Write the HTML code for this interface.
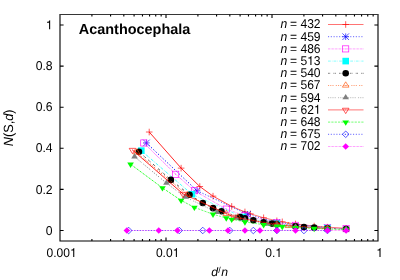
<!DOCTYPE html>
<html><head><meta charset="utf-8"><title>chart</title>
<style>html,body{margin:0;padding:0;background:#fff}svg{display:block;will-change:transform;opacity:0.999}text{font-family:"Liberation Sans",sans-serif;fill:#000;text-rendering:geometricPrecision}</style></head><body>
<svg width="400" height="280" viewBox="0 0 400 280">
<rect width="400" height="280" fill="#fff"/>
<path d="M60.0 13.945V241.555M378.0 13.945V241.555M60.0 241.0H378.0" fill="none" stroke="#000" stroke-width="1.11"/>
<path d="M60.0 14.5H378.0" fill="none" stroke="#363636" stroke-width="1.11"/>
<path d="M60.0 230.50h3.6M378.0 230.50h-3.6 M60.0 189.40h3.6M378.0 189.40h-3.6 M60.0 148.30h3.6M378.0 148.30h-3.6 M60.0 107.20h3.6M378.0 107.20h-3.6 M60.0 66.10h3.6M378.0 66.10h-3.6 M60.0 25.00h3.6M378.0 25.00h-3.6 M91.91 241.0v-1.9M91.91 14.5v1.9 M110.57 241.0v-1.9M110.57 14.5v1.9 M123.82 241.0v-1.9M123.82 14.5v1.9 M134.09 241.0v-1.9M134.09 14.5v1.9 M142.48 241.0v-1.9M142.48 14.5v1.9 M149.58 241.0v-1.9M149.58 14.5v1.9 M155.73 241.0v-1.9M155.73 14.5v1.9 M161.15 241.0v-1.9M161.15 14.5v1.9 M166.00 241.0v-3.6M166.00 14.5v3.6 M197.91 241.0v-1.9M197.91 14.5v1.9 M216.57 241.0v-1.9M216.57 14.5v1.9 M229.82 241.0v-1.9M229.82 14.5v1.9 M240.09 241.0v-1.9M240.09 14.5v1.9 M248.48 241.0v-1.9M248.48 14.5v1.9 M255.58 241.0v-1.9M255.58 14.5v1.9 M261.73 241.0v-1.9M261.73 14.5v1.9 M267.15 241.0v-1.9M267.15 14.5v1.9 M272.00 241.0v-3.6M272.00 14.5v3.6 M303.91 241.0v-1.9M303.91 14.5v1.9 M322.57 241.0v-1.9M322.57 14.5v1.9 M335.82 241.0v-1.9M335.82 14.5v1.9 M346.09 241.0v-1.9M346.09 14.5v1.9 M354.48 241.0v-1.9M354.48 14.5v1.9 M361.58 241.0v-1.9M361.58 14.5v1.9 M367.73 241.0v-1.9M367.73 14.5v1.9 M373.15 241.0v-1.9M373.15 14.5v1.9" stroke="#000" stroke-width="1.11" fill="none"/>
<g transform="translate(45.82,234.65) scale(1,1.05)"><text font-size="12.2"><tspan x="0.00">0</tspan></text></g>
<g transform="translate(35.64,193.55) scale(1,1.05)"><text font-size="12.2"><tspan x="0.00">0</tspan><tspan x="6.78">.</tspan><tspan x="10.17">2</tspan></text></g>
<g transform="translate(35.64,152.45) scale(1,1.05)"><text font-size="12.2"><tspan x="0.00">0</tspan><tspan x="6.78">.</tspan><tspan x="10.17">4</tspan></text></g>
<g transform="translate(35.64,111.35) scale(1,1.05)"><text font-size="12.2"><tspan x="0.00">0</tspan><tspan x="6.78">.</tspan><tspan x="10.17">6</tspan></text></g>
<g transform="translate(35.64,70.25) scale(1,1.05)"><text font-size="12.2"><tspan x="0.00">0</tspan><tspan x="6.78">.</tspan><tspan x="10.17">8</tspan></text></g>
<g transform="translate(45.82,29.15) scale(1,1.05)"><path transform="translate(0.00,0) scale(12.2)" d="M0.356 -0.703H0.297C0.285 -0.63 0.22 -0.575 0.101 -0.572V-0.508H0.268V0H0.356Z" fill="#000"/></g>
<g transform="translate(46.53,257.00) scale(1,1.05)"><text font-size="12.05"><tspan x="0.00">0</tspan><tspan x="6.70">.</tspan><tspan x="10.05">0</tspan><tspan x="16.75">0</tspan></text><path transform="translate(23.45,0) scale(12.05)" d="M0.356 -0.703H0.297C0.285 -0.63 0.22 -0.575 0.101 -0.572V-0.508H0.268V0H0.356Z" fill="#000"/></g>
<g transform="translate(155.88,257.00) scale(1,1.05)"><text font-size="12.05"><tspan x="0.00">0</tspan><tspan x="6.70">.</tspan><tspan x="10.05">0</tspan></text><path transform="translate(16.75,0) scale(12.05)" d="M0.356 -0.703H0.297C0.285 -0.63 0.22 -0.575 0.101 -0.572V-0.508H0.268V0H0.356Z" fill="#000"/></g>
<g transform="translate(265.23,257.00) scale(1,1.05)"><text font-size="12.05"><tspan x="0.00">0</tspan><tspan x="6.70">.</tspan></text><path transform="translate(10.05,0) scale(12.05)" d="M0.356 -0.703H0.297C0.285 -0.63 0.22 -0.575 0.101 -0.572V-0.508H0.268V0H0.356Z" fill="#000"/></g>
<g transform="translate(376.25,257.00) scale(1,1.05)"><path transform="translate(0.00,0) scale(12.05)" d="M0.356 -0.703H0.297C0.285 -0.63 0.22 -0.575 0.101 -0.572V-0.508H0.268V0H0.356Z" fill="#000"/></g>
<text x="211.2" y="275.5" font-size="12.2"><tspan font-style="italic">d</tspan><tspan font-size="8.8" dy="-2.9" dx="0.2">/</tspan><tspan font-style="italic" dy="2.9" dx="0.5">n</tspan></text>
<text transform="translate(13.3,127.8) rotate(-90) scale(1,1.05)" font-size="12.7" text-anchor="middle"><tspan font-style="italic">N</tspan>(S,<tspan font-style="italic">d</tspan>)</text>
<text x="78.8" y="34.2" font-size="14.45" font-weight="bold">Acanthocephala</text>
<path d="M149.21 132.03L181.12 168.13" fill="none" stroke="#ff0000" stroke-width="0.85"/>
<path d="M181.12 168.13L199.79 186.52" fill="none" stroke="#ff0000" stroke-width="0.85"/>
<path d="M199.79 186.52L213.03 196.15" fill="none" stroke="#ff0000" stroke-width="0.80"/>
<path d="M213.03 196.15L231.70 206.40" fill="none" stroke="#ff0000" stroke-width="0.70"/>
<path d="M231.70 206.40L244.94 211.93" fill="none" stroke="#ff0000" stroke-width="0.62"/>
<path d="M244.94 211.93L250.36 213.84" fill="none" stroke="#ff0000" stroke-width="0.57"/>
<path d="M250.36 213.84L263.61 217.77" fill="none" stroke="#ff0000" stroke-width="0.55"/>
<path d="M263.61 217.77L276.85 220.82" fill="none" stroke="#ff0000" stroke-width="0.55"/>
<path d="M276.85 220.82L282.27 221.86" fill="none" stroke="#ff0000" stroke-width="0.55"/>
<path d="M282.27 221.86L295.52 223.95" fill="none" stroke="#ff0000" stroke-width="0.55"/>
<path d="M295.52 223.95L314.18 226.09" fill="none" stroke="#ff0000" stroke-width="0.55"/>
<path d="M314.18 226.09L327.43 227.18" fill="none" stroke="#ff0000" stroke-width="0.55"/>
<path d="M327.43 227.18L346.09 228.28" fill="none" stroke="#ff0000" stroke-width="0.55"/>
<path d="M145.91 132.03H152.51M149.21 128.73V135.33" stroke="#ff0000" stroke-width="0.65" fill="none"/>
<path d="M177.82 168.13H184.42M181.12 164.83V171.43" stroke="#ff0000" stroke-width="0.65" fill="none"/>
<path d="M196.49 186.52H203.09M199.79 183.22V189.82" stroke="#ff0000" stroke-width="0.65" fill="none"/>
<path d="M209.73 196.15H216.33M213.03 192.85V199.45" stroke="#ff0000" stroke-width="0.65" fill="none"/>
<path d="M228.40 206.40H235.00M231.70 203.10V209.70" stroke="#ff0000" stroke-width="0.65" fill="none"/>
<path d="M241.64 211.93H248.24M244.94 208.63V215.23" stroke="#ff0000" stroke-width="0.65" fill="none"/>
<path d="M247.06 213.84H253.66M250.36 210.54V217.14" stroke="#ff0000" stroke-width="0.65" fill="none"/>
<path d="M260.31 217.77H266.91M263.61 214.47V221.07" stroke="#ff0000" stroke-width="0.65" fill="none"/>
<path d="M273.55 220.82H280.15M276.85 217.52V224.12" stroke="#ff0000" stroke-width="0.65" fill="none"/>
<path d="M278.97 221.86H285.57M282.27 218.56V225.16" stroke="#ff0000" stroke-width="0.65" fill="none"/>
<path d="M292.22 223.95H298.82M295.52 220.65V227.25" stroke="#ff0000" stroke-width="0.65" fill="none"/>
<path d="M310.88 226.09H317.48M314.18 222.79V229.39" stroke="#ff0000" stroke-width="0.65" fill="none"/>
<path d="M324.13 227.18H330.73M327.43 223.88V230.48" stroke="#ff0000" stroke-width="0.65" fill="none"/>
<path d="M342.79 228.28H349.39M346.09 224.98V231.58" stroke="#ff0000" stroke-width="0.65" fill="none"/>
<path d="M146.42 142.92L197.00 190.73" fill="none" stroke="#0000ff" stroke-width="0.95" stroke-dasharray="1.271,1.912" stroke-dashoffset="0.00"/>
<path d="M197.00 190.73L247.57 214.37" fill="none" stroke="#0000ff" stroke-width="0.72" stroke-dasharray="1.162,1.748" stroke-dashoffset="2.68"/>
<path d="M247.57 214.37L276.85 222.38" fill="none" stroke="#0000ff" stroke-width="0.62" stroke-dasharray="1.110,1.670" stroke-dashoffset="0.32"/>
<path d="M276.85 222.38L327.43 227.72" fill="none" stroke="#0000ff" stroke-width="0.62" stroke-dasharray="1.110,1.670" stroke-dashoffset="0.10"/>
<path d="M143.12 142.92H149.72M146.42 139.62V146.22M143.12 139.62L149.72 146.22M143.12 146.22L149.72 139.62" stroke="#0000ff" stroke-width="0.65" fill="none"/>
<path d="M193.70 190.73H200.30M197.00 187.43V194.03M193.70 187.43L200.30 194.03M193.70 194.03L200.30 187.43" stroke="#0000ff" stroke-width="0.65" fill="none"/>
<path d="M244.27 214.37H250.87M247.57 211.07V217.67M244.27 211.07L250.87 217.67M244.27 217.67L250.87 211.07" stroke="#0000ff" stroke-width="0.65" fill="none"/>
<path d="M273.55 222.38H280.15M276.85 219.08V225.68M273.55 219.08L280.15 225.68M273.55 225.68L280.15 219.08" stroke="#0000ff" stroke-width="0.65" fill="none"/>
<path d="M324.13 227.72H330.73M327.43 224.42V231.02M324.13 224.42L330.73 231.02M324.13 231.02L330.73 224.42" stroke="#0000ff" stroke-width="0.65" fill="none"/>
<path d="M143.79 142.97L175.70 174.26" fill="none" stroke="#ff00ff" stroke-width="1.00" stroke-dasharray="0.637,0.954" stroke-dashoffset="0.00"/>
<path d="M175.70 174.26L194.37 190.75" fill="none" stroke="#ff00ff" stroke-width="1.00" stroke-dasharray="0.637,0.954" stroke-dashoffset="0.16"/>
<path d="M194.37 190.75L226.28 209.07" fill="none" stroke="#ff00ff" stroke-width="0.84" stroke-dasharray="0.599,0.898" stroke-dashoffset="0.71"/>
<path d="M226.28 209.07L244.94 215.69" fill="none" stroke="#ff00ff" stroke-width="0.67" stroke-dasharray="0.562,0.841" stroke-dashoffset="1.17"/>
<path d="M244.94 215.69L276.85 222.82" fill="none" stroke="#ff00ff" stroke-width="0.65" stroke-dasharray="0.556,0.833" stroke-dashoffset="1.19"/>
<path d="M276.85 222.82L295.52 225.31" fill="none" stroke="#ff00ff" stroke-width="0.65" stroke-dasharray="0.556,0.833" stroke-dashoffset="0.55"/>
<path d="M295.52 225.31L327.43 227.87" fill="none" stroke="#ff00ff" stroke-width="0.65" stroke-dasharray="0.556,0.833" stroke-dashoffset="1.32"/>
<path d="M327.43 227.87L346.09 228.74" fill="none" stroke="#ff00ff" stroke-width="0.65" stroke-dasharray="0.556,0.833" stroke-dashoffset="1.39"/>
<rect x="140.72" y="139.90" width="6.14" height="6.14" stroke="#ff00ff" stroke-width="0.65" fill="none"/><circle cx="143.79" cy="142.97" r="0.45" fill="#ff00ff"/>
<rect x="172.63" y="171.19" width="6.14" height="6.14" stroke="#ff00ff" stroke-width="0.65" fill="none"/><circle cx="175.70" cy="174.26" r="0.45" fill="#ff00ff"/>
<rect x="191.30" y="187.68" width="6.14" height="6.14" stroke="#ff00ff" stroke-width="0.65" fill="none"/><circle cx="194.37" cy="190.75" r="0.45" fill="#ff00ff"/>
<rect x="223.21" y="206.01" width="6.14" height="6.14" stroke="#ff00ff" stroke-width="0.65" fill="none"/><circle cx="226.28" cy="209.07" r="0.45" fill="#ff00ff"/>
<rect x="241.87" y="212.63" width="6.14" height="6.14" stroke="#ff00ff" stroke-width="0.65" fill="none"/><circle cx="244.94" cy="215.69" r="0.45" fill="#ff00ff"/>
<rect x="273.78" y="219.75" width="6.14" height="6.14" stroke="#ff00ff" stroke-width="0.65" fill="none"/><circle cx="276.85" cy="222.82" r="0.45" fill="#ff00ff"/>
<rect x="292.45" y="222.24" width="6.14" height="6.14" stroke="#ff00ff" stroke-width="0.65" fill="none"/><circle cx="295.52" cy="225.31" r="0.45" fill="#ff00ff"/>
<rect x="324.36" y="224.80" width="6.14" height="6.14" stroke="#ff00ff" stroke-width="0.65" fill="none"/><circle cx="327.43" cy="227.87" r="0.45" fill="#ff00ff"/>
<rect x="343.02" y="225.67" width="6.14" height="6.14" stroke="#ff00ff" stroke-width="0.65" fill="none"/><circle cx="346.09" cy="228.74" r="0.45" fill="#ff00ff"/>
<path d="M141.30 150.65L191.88 194.24" fill="none" stroke="#00ffff" stroke-width="0.72" stroke-dasharray="3.183,1.271,0.641,1.271" stroke-dashoffset="0.00"/>
<path d="M191.88 194.24L242.45 216.99" fill="none" stroke="#00ffff" stroke-width="0.54" stroke-dasharray="2.894,1.156,0.583,1.156" stroke-dashoffset="3.10"/>
<path d="M242.45 216.99L276.85 223.85" fill="none" stroke="#00ffff" stroke-width="0.47" stroke-dasharray="2.780,1.110,0.560,1.110" stroke-dashoffset="5.47"/>
<path d="M276.85 223.85L327.43 228.23" fill="none" stroke="#00ffff" stroke-width="0.47" stroke-dasharray="2.780,1.110,0.560,1.110" stroke-dashoffset="1.62"/>
<rect x="138.00" y="147.35" width="6.60" height="6.60" fill="#00ffff"/>
<rect x="188.58" y="190.94" width="6.60" height="6.60" fill="#00ffff"/>
<rect x="239.15" y="213.69" width="6.60" height="6.60" fill="#00ffff"/>
<rect x="273.55" y="220.55" width="6.60" height="6.60" fill="#00ffff"/>
<rect x="324.13" y="224.93" width="6.60" height="6.60" fill="#00ffff"/>
<path d="M138.94 151.72L170.85 179.89" fill="none" stroke="#000000" stroke-width="1.00" stroke-dasharray="0.859,0.744,0.859,3.904" stroke-dashoffset="0.00"/>
<path d="M170.85 179.89L189.52 194.73" fill="none" stroke="#000000" stroke-width="0.98" stroke-dasharray="0.851,0.738,0.851,3.870" stroke-dashoffset="4.69"/>
<path d="M189.52 194.73L202.76 203.02" fill="none" stroke="#000000" stroke-width="0.87" stroke-dasharray="0.820,0.710,0.820,3.726" stroke-dashoffset="5.65"/>
<path d="M202.76 203.02L213.03 208.16" fill="none" stroke="#000000" stroke-width="0.79" stroke-dasharray="0.792,0.687,0.792,3.603" stroke-dashoffset="5.67"/>
<path d="M213.03 208.16L221.43 211.22" fill="none" stroke="#000000" stroke-width="0.68" stroke-dasharray="0.760,0.659,0.760,3.455" stroke-dashoffset="3.38"/>
<path d="M221.43 211.22L240.09 217.17" fill="none" stroke="#000000" stroke-width="0.65" stroke-dasharray="0.750,0.650,0.750,3.410" stroke-dashoffset="2.37"/>
<path d="M240.09 217.17L244.94 218.42" fill="none" stroke="#000000" stroke-width="0.65" stroke-dasharray="0.750,0.650,0.750,3.410" stroke-dashoffset="5.28"/>
<path d="M244.94 218.42L253.33 220.32" fill="none" stroke="#000000" stroke-width="0.65" stroke-dasharray="0.750,0.650,0.750,3.410" stroke-dashoffset="4.73"/>
<path d="M253.33 220.32L263.61 222.26" fill="none" stroke="#000000" stroke-width="0.65" stroke-dasharray="0.750,0.650,0.750,3.410" stroke-dashoffset="2.22"/>
<path d="M263.61 222.26L272.00 223.58" fill="none" stroke="#000000" stroke-width="0.65" stroke-dasharray="0.750,0.650,0.750,3.410" stroke-dashoffset="1.55"/>
<path d="M272.00 223.58L276.85 224.25" fill="none" stroke="#000000" stroke-width="0.65" stroke-dasharray="0.750,0.650,0.750,3.410" stroke-dashoffset="4.49"/>
<path d="M276.85 224.25L295.52 226.29" fill="none" stroke="#000000" stroke-width="0.65" stroke-dasharray="0.750,0.650,0.750,3.410" stroke-dashoffset="3.82"/>
<path d="M295.52 226.29L303.91 226.98" fill="none" stroke="#000000" stroke-width="0.65" stroke-dasharray="0.750,0.650,0.750,3.410" stroke-dashoffset="0.36"/>
<path d="M303.91 226.98L314.18 227.67" fill="none" stroke="#000000" stroke-width="0.65" stroke-dasharray="0.750,0.650,0.750,3.410" stroke-dashoffset="3.22"/>
<path d="M314.18 227.67L327.43 228.37" fill="none" stroke="#000000" stroke-width="0.65" stroke-dasharray="0.750,0.650,0.750,3.410" stroke-dashoffset="2.40"/>
<path d="M327.43 228.37L346.09 229.07" fill="none" stroke="#000000" stroke-width="0.65" stroke-dasharray="0.750,0.650,0.750,3.410" stroke-dashoffset="4.54"/>
<circle cx="138.94" cy="151.72" r="3.30" fill="#000000"/>
<circle cx="170.85" cy="179.89" r="3.30" fill="#000000"/>
<circle cx="189.52" cy="194.73" r="3.30" fill="#000000"/>
<circle cx="202.76" cy="203.02" r="3.30" fill="#000000"/>
<circle cx="213.03" cy="208.16" r="3.30" fill="#000000"/>
<circle cx="221.43" cy="211.22" r="3.30" fill="#000000"/>
<circle cx="240.09" cy="217.17" r="3.30" fill="#000000"/>
<circle cx="244.94" cy="218.42" r="3.30" fill="#000000"/>
<circle cx="253.33" cy="220.32" r="3.30" fill="#000000"/>
<circle cx="263.61" cy="222.26" r="3.30" fill="#000000"/>
<circle cx="272.00" cy="223.58" r="3.30" fill="#000000"/>
<circle cx="276.85" cy="224.25" r="3.30" fill="#000000"/>
<circle cx="295.52" cy="226.29" r="3.30" fill="#000000"/>
<circle cx="303.91" cy="226.98" r="3.30" fill="#000000"/>
<circle cx="314.18" cy="227.67" r="3.30" fill="#000000"/>
<circle cx="327.43" cy="228.37" r="3.30" fill="#000000"/>
<circle cx="346.09" cy="229.07" r="3.30" fill="#000000"/>
<path d="M136.70 152.48L187.27 195.07" fill="none" stroke="#ff4d00" stroke-width="0.85" stroke-dasharray="1.271,1.271,1.271,1.271,1.271,2.542" stroke-dashoffset="0.00"/>
<path d="M187.27 195.07L226.28 213.88" fill="none" stroke="#ff4d00" stroke-width="0.66" stroke-dasharray="1.167,1.167,1.167,1.167,1.167,2.333" stroke-dashoffset="0.79"/>
<path d="M226.28 213.88L237.84 217.30" fill="none" stroke="#ff4d00" stroke-width="0.55" stroke-dasharray="1.110,1.110,1.110,1.110,1.110,2.220" stroke-dashoffset="0.64"/>
<path d="M237.84 217.30L276.85 224.60" fill="none" stroke="#ff4d00" stroke-width="0.55" stroke-dasharray="1.110,1.110,1.110,1.110,1.110,2.220" stroke-dashoffset="4.94"/>
<path d="M276.85 224.60L288.42 225.88" fill="none" stroke="#ff4d00" stroke-width="0.55" stroke-dasharray="1.110,1.110,1.110,1.110,1.110,2.220" stroke-dashoffset="5.77"/>
<path d="M288.42 225.88L327.43 228.49" fill="none" stroke="#ff4d00" stroke-width="0.55" stroke-dasharray="1.110,1.110,1.110,1.110,1.110,2.220" stroke-dashoffset="1.87"/>
<path d="M136.70 148.78L133.40 154.13H140.00Z" stroke="#ff4d00" stroke-width="0.65" fill="none"/><circle cx="136.70" cy="152.48" r="0.45" fill="#ff4d00"/>
<path d="M187.27 191.37L183.97 196.72H190.57Z" stroke="#ff4d00" stroke-width="0.65" fill="none"/><circle cx="187.27" cy="195.07" r="0.45" fill="#ff4d00"/>
<path d="M226.28 210.18L222.98 215.53H229.58Z" stroke="#ff4d00" stroke-width="0.65" fill="none"/><circle cx="226.28" cy="213.88" r="0.45" fill="#ff4d00"/>
<path d="M237.84 213.61L234.54 218.95H241.14Z" stroke="#ff4d00" stroke-width="0.65" fill="none"/><circle cx="237.84" cy="217.30" r="0.45" fill="#ff4d00"/>
<path d="M276.85 220.90L273.55 226.25H280.15Z" stroke="#ff4d00" stroke-width="0.65" fill="none"/><circle cx="276.85" cy="224.60" r="0.45" fill="#ff4d00"/>
<path d="M288.42 222.18L285.12 227.53H291.72Z" stroke="#ff4d00" stroke-width="0.65" fill="none"/><circle cx="288.42" cy="225.88" r="0.45" fill="#ff4d00"/>
<path d="M327.43 224.79L324.13 230.14H330.73Z" stroke="#ff4d00" stroke-width="0.65" fill="none"/><circle cx="327.43" cy="228.49" r="0.45" fill="#ff4d00"/>
<path d="M134.55 156.74L166.46 183.11" fill="none" stroke="#808080" stroke-width="0.84" stroke-dasharray="1.268,1.268,1.268,1.268,1.268,1.268,1.268,2.536" stroke-dashoffset="0.00"/>
<path d="M166.46 183.11L185.13 197.00" fill="none" stroke="#808080" stroke-width="0.80" stroke-dasharray="1.247,1.247,1.247,1.247,1.247,1.247,1.247,2.493" stroke-dashoffset="7.74"/>
<path d="M185.13 197.00L217.04 212.44" fill="none" stroke="#808080" stroke-width="0.66" stroke-dasharray="1.167,1.167,1.167,1.167,1.167,1.167,1.167,2.334" stroke-dashoffset="1.64"/>
<path d="M217.04 212.44L235.70 218.02" fill="none" stroke="#808080" stroke-width="0.55" stroke-dasharray="1.110,1.110,1.110,1.110,1.110,1.110,1.110,2.220" stroke-dashoffset="0.21"/>
<path d="M235.70 218.02L244.94 220.15" fill="none" stroke="#808080" stroke-width="0.55" stroke-dasharray="1.110,1.110,1.110,1.110,1.110,1.110,1.110,2.220" stroke-dashoffset="9.71"/>
<path d="M244.94 220.15L267.61 224.02" fill="none" stroke="#808080" stroke-width="0.55" stroke-dasharray="1.110,1.110,1.110,1.110,1.110,1.110,1.110,2.220" stroke-dashoffset="9.20"/>
<path d="M267.61 224.02L276.85 225.17" fill="none" stroke="#808080" stroke-width="0.55" stroke-dasharray="1.110,1.110,1.110,1.110,1.110,1.110,1.110,2.220" stroke-dashoffset="2.23"/>
<path d="M276.85 225.17L295.52 226.91" fill="none" stroke="#808080" stroke-width="0.55" stroke-dasharray="1.110,1.110,1.110,1.110,1.110,1.110,1.110,2.220" stroke-dashoffset="1.54"/>
<path d="M295.52 226.91L327.43 228.68" fill="none" stroke="#808080" stroke-width="0.55" stroke-dasharray="1.110,1.110,1.110,1.110,1.110,1.110,1.110,2.220" stroke-dashoffset="0.31"/>
<path d="M327.43 228.68L346.09 229.28" fill="none" stroke="#808080" stroke-width="0.55" stroke-dasharray="1.110,1.110,1.110,1.110,1.110,1.110,1.110,2.220" stroke-dashoffset="2.30"/>
<path d="M134.55 153.04L131.25 158.39H137.85Z" fill="#808080"/>
<path d="M166.46 179.41L163.16 184.76H169.76Z" fill="#808080"/>
<path d="M185.13 193.31L181.83 198.65H188.43Z" fill="#808080"/>
<path d="M217.04 208.75L213.74 214.09H220.34Z" fill="#808080"/>
<path d="M235.70 214.33L232.40 219.67H239.00Z" fill="#808080"/>
<path d="M244.94 216.46L241.64 221.80H248.24Z" fill="#808080"/>
<path d="M267.61 220.33L264.31 225.67H270.91Z" fill="#808080"/>
<path d="M276.85 221.47L273.55 226.82H280.15Z" fill="#808080"/>
<path d="M295.52 223.21L292.22 228.56H298.82Z" fill="#808080"/>
<path d="M327.43 224.99L324.13 230.33H330.73Z" fill="#808080"/>
<path d="M346.09 225.59L342.79 230.93H349.39Z" fill="#808080"/>
<path d="M132.51 150.01L183.08 193.95" fill="none" stroke="#ff0000" stroke-width="0.85"/>
<path d="M183.08 193.95L233.66 216.88" fill="none" stroke="#ff0000" stroke-width="0.64"/>
<path d="M233.66 216.88L276.85 224.92" fill="none" stroke="#ff0000" stroke-width="0.55"/>
<path d="M276.85 224.92L327.43 228.60" fill="none" stroke="#ff0000" stroke-width="0.55"/>
<path d="M132.51 153.71L129.21 148.36H135.81Z" stroke="#ff0000" stroke-width="0.65" fill="none"/><circle cx="132.51" cy="150.01" r="0.45" fill="#ff0000"/>
<path d="M183.08 197.65L179.78 192.30H186.38Z" stroke="#ff0000" stroke-width="0.65" fill="none"/><circle cx="183.08" cy="193.95" r="0.45" fill="#ff0000"/>
<path d="M233.66 220.58L230.36 215.23H236.96Z" stroke="#ff0000" stroke-width="0.65" fill="none"/><circle cx="233.66" cy="216.88" r="0.45" fill="#ff0000"/>
<path d="M276.85 228.62L273.55 223.27H280.15Z" stroke="#ff0000" stroke-width="0.65" fill="none"/><circle cx="276.85" cy="224.92" r="0.45" fill="#ff0000"/>
<path d="M327.43 232.30L324.13 226.95H330.73Z" stroke="#ff0000" stroke-width="0.65" fill="none"/><circle cx="327.43" cy="228.60" r="0.45" fill="#ff0000"/>
<path d="M130.55 164.20L162.46 187.90" fill="none" stroke="#00ff00" stroke-width="0.80" stroke-dasharray="2.492,1.246" stroke-dashoffset="0.00"/>
<path d="M162.46 187.90L181.12 200.39" fill="none" stroke="#00ff00" stroke-width="0.77" stroke-dasharray="2.451,1.226" stroke-dashoffset="2.98"/>
<path d="M181.12 200.39L194.37 207.37" fill="none" stroke="#00ff00" stroke-width="0.69" stroke-dasharray="2.363,1.182" stroke-dashoffset="1.94"/>
<path d="M194.37 207.37L213.03 214.27" fill="none" stroke="#00ff00" stroke-width="0.58" stroke-dasharray="2.253,1.127" stroke-dashoffset="2.82"/>
<path d="M213.03 214.27L226.28 218.00" fill="none" stroke="#00ff00" stroke-width="0.55" stroke-dasharray="2.220,1.110" stroke-dashoffset="0.51"/>
<path d="M226.28 218.00L231.70 219.28" fill="none" stroke="#00ff00" stroke-width="0.55" stroke-dasharray="2.220,1.110" stroke-dashoffset="0.95"/>
<path d="M231.70 219.28L244.94 221.93" fill="none" stroke="#00ff00" stroke-width="0.55" stroke-dasharray="2.220,1.110" stroke-dashoffset="3.19"/>
<path d="M244.94 221.93L263.61 224.68" fill="none" stroke="#00ff00" stroke-width="0.55" stroke-dasharray="2.220,1.110" stroke-dashoffset="0.05"/>
<path d="M263.61 224.68L276.85 226.09" fill="none" stroke="#00ff00" stroke-width="0.55" stroke-dasharray="2.220,1.110" stroke-dashoffset="2.26"/>
<path d="M276.85 226.09L282.27 226.57" fill="none" stroke="#00ff00" stroke-width="0.55" stroke-dasharray="2.220,1.110" stroke-dashoffset="2.26"/>
<path d="M282.27 226.57L295.52 227.53" fill="none" stroke="#00ff00" stroke-width="0.55" stroke-dasharray="2.220,1.110" stroke-dashoffset="1.04"/>
<path d="M295.52 227.53L314.18 228.51" fill="none" stroke="#00ff00" stroke-width="0.55" stroke-dasharray="2.220,1.110" stroke-dashoffset="1.00"/>
<path d="M314.18 228.51L327.43 229.00" fill="none" stroke="#00ff00" stroke-width="0.55" stroke-dasharray="2.220,1.110" stroke-dashoffset="3.04"/>
<path d="M327.43 229.00L346.09 229.50" fill="none" stroke="#00ff00" stroke-width="0.55" stroke-dasharray="2.220,1.110" stroke-dashoffset="2.98"/>
<path d="M130.55 167.89L127.25 162.55H133.85Z" fill="#00ff00"/>
<path d="M162.46 191.60L159.16 186.25H165.76Z" fill="#00ff00"/>
<path d="M181.12 204.09L177.82 198.74H184.42Z" fill="#00ff00"/>
<path d="M194.37 211.07L191.07 205.72H197.67Z" fill="#00ff00"/>
<path d="M213.03 217.97L209.73 212.62H216.33Z" fill="#00ff00"/>
<path d="M226.28 221.69L222.98 216.35H229.58Z" fill="#00ff00"/>
<path d="M231.70 222.98L228.40 217.63H235.00Z" fill="#00ff00"/>
<path d="M244.94 225.63L241.64 220.28H248.24Z" fill="#00ff00"/>
<path d="M263.61 228.38L260.31 223.03H266.91Z" fill="#00ff00"/>
<path d="M276.85 229.79L273.55 224.44H280.15Z" fill="#00ff00"/>
<path d="M282.27 230.27L278.97 224.92H285.57Z" fill="#00ff00"/>
<path d="M295.52 231.23L292.22 225.88H298.82Z" fill="#00ff00"/>
<path d="M314.18 232.21L310.88 226.86H317.48Z" fill="#00ff00"/>
<path d="M327.43 232.70L324.13 227.35H330.73Z" fill="#00ff00"/>
<path d="M346.09 233.19L342.79 227.85H349.39Z" fill="#00ff00"/>
<path d="M128.67 230.50L179.24 230.50" fill="none" stroke="#0000ff" stroke-width="0.62" stroke-dasharray="1.110,1.670" stroke-dashoffset="0.00"/>
<path d="M179.24 230.50L202.76 230.50" fill="none" stroke="#0000ff" stroke-width="0.62" stroke-dasharray="1.110,1.670" stroke-dashoffset="0.53"/>
<path d="M202.76 230.50L229.82 230.50" fill="none" stroke="#0000ff" stroke-width="0.62" stroke-dasharray="1.110,1.670" stroke-dashoffset="1.81"/>
<path d="M229.82 230.50L253.33 230.50" fill="none" stroke="#0000ff" stroke-width="0.62" stroke-dasharray="1.110,1.670" stroke-dashoffset="1.07"/>
<path d="M253.33 230.50L276.85 230.50" fill="none" stroke="#0000ff" stroke-width="0.62" stroke-dasharray="1.110,1.670" stroke-dashoffset="2.35"/>
<path d="M276.85 230.50L303.91 230.50" fill="none" stroke="#0000ff" stroke-width="0.62" stroke-dasharray="1.110,1.670" stroke-dashoffset="0.84"/>
<path d="M303.91 230.50L327.43 230.50" fill="none" stroke="#0000ff" stroke-width="0.62" stroke-dasharray="1.110,1.670" stroke-dashoffset="0.10"/>
<path d="M128.67 227.20L131.97 230.50L128.67 233.80L125.37 230.50Z" stroke="#0000ff" stroke-width="0.65" fill="none"/><circle cx="128.67" cy="230.50" r="0.45" fill="#0000ff"/>
<path d="M179.24 227.20L182.54 230.50L179.24 233.80L175.94 230.50Z" stroke="#0000ff" stroke-width="0.65" fill="none"/><circle cx="179.24" cy="230.50" r="0.45" fill="#0000ff"/>
<path d="M202.76 227.20L206.06 230.50L202.76 233.80L199.46 230.50Z" stroke="#0000ff" stroke-width="0.65" fill="none"/><circle cx="202.76" cy="230.50" r="0.45" fill="#0000ff"/>
<path d="M229.82 227.20L233.12 230.50L229.82 233.80L226.52 230.50Z" stroke="#0000ff" stroke-width="0.65" fill="none"/><circle cx="229.82" cy="230.50" r="0.45" fill="#0000ff"/>
<path d="M253.33 227.20L256.63 230.50L253.33 233.80L250.03 230.50Z" stroke="#0000ff" stroke-width="0.65" fill="none"/><circle cx="253.33" cy="230.50" r="0.45" fill="#0000ff"/>
<path d="M276.85 227.20L280.15 230.50L276.85 233.80L273.55 230.50Z" stroke="#0000ff" stroke-width="0.65" fill="none"/><circle cx="276.85" cy="230.50" r="0.45" fill="#0000ff"/>
<path d="M303.91 227.20L307.21 230.50L303.91 233.80L300.61 230.50Z" stroke="#0000ff" stroke-width="0.65" fill="none"/><circle cx="303.91" cy="230.50" r="0.45" fill="#0000ff"/>
<path d="M327.43 227.20L330.73 230.50L327.43 233.80L324.13 230.50Z" stroke="#0000ff" stroke-width="0.65" fill="none"/><circle cx="327.43" cy="230.50" r="0.45" fill="#0000ff"/>
<path d="M126.86 230.50L158.77 230.50" fill="none" stroke="#ff00ff" stroke-width="0.65" stroke-dasharray="0.556,0.833" stroke-dashoffset="0.00"/>
<path d="M158.77 230.50L177.44 230.50" fill="none" stroke="#ff00ff" stroke-width="0.65" stroke-dasharray="0.556,0.833" stroke-dashoffset="1.35"/>
<path d="M177.44 230.50L209.35 230.50" fill="none" stroke="#ff00ff" stroke-width="0.65" stroke-dasharray="0.556,0.833" stroke-dashoffset="0.57"/>
<path d="M209.35 230.50L228.01 230.50" fill="none" stroke="#ff00ff" stroke-width="0.65" stroke-dasharray="0.556,0.833" stroke-dashoffset="0.53"/>
<path d="M228.01 230.50L244.94 230.50" fill="none" stroke="#ff00ff" stroke-width="0.65" stroke-dasharray="0.556,0.833" stroke-dashoffset="1.14"/>
<path d="M244.94 230.50L259.92 230.50" fill="none" stroke="#ff00ff" stroke-width="0.65" stroke-dasharray="0.556,0.833" stroke-dashoffset="0.01"/>
<path d="M259.92 230.50L276.85 230.50" fill="none" stroke="#ff00ff" stroke-width="0.65" stroke-dasharray="0.556,0.833" stroke-dashoffset="1.10"/>
<path d="M276.85 230.50L295.52 230.50" fill="none" stroke="#ff00ff" stroke-width="0.65" stroke-dasharray="0.556,0.833" stroke-dashoffset="1.36"/>
<path d="M295.52 230.50L327.43 230.50" fill="none" stroke="#ff00ff" stroke-width="0.65" stroke-dasharray="0.556,0.833" stroke-dashoffset="0.58"/>
<path d="M327.43 230.50L346.09 230.50" fill="none" stroke="#ff00ff" stroke-width="0.65" stroke-dasharray="0.556,0.833" stroke-dashoffset="0.55"/>
<path d="M126.86 227.20L130.16 230.50L126.86 233.80L123.56 230.50Z" fill="#ff00ff"/>
<path d="M158.77 227.20L162.07 230.50L158.77 233.80L155.47 230.50Z" fill="#ff00ff"/>
<path d="M177.44 227.20L180.74 230.50L177.44 233.80L174.14 230.50Z" fill="#ff00ff"/>
<path d="M209.35 227.20L212.65 230.50L209.35 233.80L206.05 230.50Z" fill="#ff00ff"/>
<path d="M228.01 227.20L231.31 230.50L228.01 233.80L224.71 230.50Z" fill="#ff00ff"/>
<path d="M244.94 227.20L248.24 230.50L244.94 233.80L241.64 230.50Z" fill="#ff00ff"/>
<path d="M259.92 227.20L263.22 230.50L259.92 233.80L256.62 230.50Z" fill="#ff00ff"/>
<path d="M276.85 227.20L280.15 230.50L276.85 233.80L273.55 230.50Z" fill="#ff00ff"/>
<path d="M295.52 227.20L298.82 230.50L295.52 233.80L292.22 230.50Z" fill="#ff00ff"/>
<path d="M327.43 227.20L330.73 230.50L327.43 233.80L324.13 230.50Z" fill="#ff00ff"/>
<path d="M346.09 227.20L349.39 230.50L346.09 233.80L342.79 230.50Z" fill="#ff00ff"/>
<g transform="translate(279.90,28.35) scale(1,1.06)"><text font-size="12.1"><tspan x="0.50" font-style="italic">n</tspan><tspan x="10.09">=</tspan><tspan x="20.52">4</tspan><tspan x="27.25">3</tspan><tspan x="33.98">2</tspan></text></g>
<path d="M328 24.50H363.5" fill="none" stroke="#ff0000" stroke-width="0.55"/>
<path d="M342.40 24.50H349.00M345.70 21.20V27.80" stroke="#ff0000" stroke-width="0.65" fill="none"/>
<g transform="translate(279.90,40.55) scale(1,1.06)"><text font-size="12.1"><tspan x="0.50" font-style="italic">n</tspan><tspan x="10.09">=</tspan><tspan x="20.52">4</tspan><tspan x="27.25">5</tspan><tspan x="33.98">9</tspan></text></g>
<path d="M328 36.70H363.5" fill="none" stroke="#0000ff" stroke-width="0.62" stroke-dasharray="1.11,1.67"/>
<path d="M342.40 36.70H349.00M345.70 33.40V40.00M342.40 33.40L349.00 40.00M342.40 40.00L349.00 33.40" stroke="#0000ff" stroke-width="0.65" fill="none"/>
<g transform="translate(279.90,52.75) scale(1,1.06)"><text font-size="12.1"><tspan x="0.50" font-style="italic">n</tspan><tspan x="10.09">=</tspan><tspan x="20.52">4</tspan><tspan x="27.25">8</tspan><tspan x="33.98">6</tspan></text></g>
<path d="M328 48.90H363.5" fill="none" stroke="#ff00ff" stroke-width="0.65" stroke-dasharray="0.556,0.833"/>
<rect x="342.63" y="45.83" width="6.14" height="6.14" stroke="#ff00ff" stroke-width="0.65" fill="none"/><circle cx="345.70" cy="48.90" r="0.45" fill="#ff00ff"/>
<g transform="translate(279.90,64.95) scale(1,1.06)"><text font-size="12.1"><tspan x="0.50" font-style="italic">n</tspan><tspan x="10.09">=</tspan><tspan x="20.52">5</tspan><tspan x="33.98">3</tspan></text><path transform="translate(27.25,0) scale(12.1)" d="M0.356 -0.703H0.297C0.285 -0.63 0.22 -0.575 0.101 -0.572V-0.508H0.268V0H0.356Z" fill="#000"/></g>
<path d="M328 61.10H363.5" fill="none" stroke="#00ffff" stroke-width="0.47" stroke-dasharray="2.78,1.11,0.56,1.11"/>
<rect x="342.40" y="57.80" width="6.60" height="6.60" fill="#00ffff"/>
<g transform="translate(279.90,77.15) scale(1,1.06)"><text font-size="12.1"><tspan x="0.50" font-style="italic">n</tspan><tspan x="10.09">=</tspan><tspan x="20.52">5</tspan><tspan x="27.25">4</tspan><tspan x="33.98">0</tspan></text></g>
<path d="M328 73.30H363.5" fill="none" stroke="#000000" stroke-width="0.65" stroke-dasharray="0.75,0.65,0.75,3.41"/>
<circle cx="345.70" cy="73.30" r="3.30" fill="#000000"/>
<g transform="translate(279.90,89.35) scale(1,1.06)"><text font-size="12.1"><tspan x="0.50" font-style="italic">n</tspan><tspan x="10.09">=</tspan><tspan x="20.52">5</tspan><tspan x="27.25">6</tspan><tspan x="33.98">7</tspan></text></g>
<path d="M328 85.50H363.5" fill="none" stroke="#ff4d00" stroke-width="0.55" stroke-dasharray="1.11,1.11,1.11,1.11,1.11,2.22"/>
<path d="M345.70 81.80L342.40 87.15H349.00Z" stroke="#ff4d00" stroke-width="0.65" fill="none"/><circle cx="345.70" cy="85.50" r="0.45" fill="#ff4d00"/>
<g transform="translate(279.90,101.55) scale(1,1.06)"><text font-size="12.1"><tspan x="0.50" font-style="italic">n</tspan><tspan x="10.09">=</tspan><tspan x="20.52">5</tspan><tspan x="27.25">9</tspan><tspan x="33.98">4</tspan></text></g>
<path d="M328 97.70H363.5" fill="none" stroke="#808080" stroke-width="0.55" stroke-dasharray="1.11,1.11,1.11,1.11,1.11,1.11,1.11,2.22"/>
<path d="M345.70 94.00L342.40 99.35H349.00Z" fill="#808080"/>
<g transform="translate(279.90,113.75) scale(1,1.06)"><text font-size="12.1"><tspan x="0.50" font-style="italic">n</tspan><tspan x="10.09">=</tspan><tspan x="20.52">6</tspan><tspan x="27.25">2</tspan></text><path transform="translate(33.98,0) scale(12.1)" d="M0.356 -0.703H0.297C0.285 -0.63 0.22 -0.575 0.101 -0.572V-0.508H0.268V0H0.356Z" fill="#000"/></g>
<path d="M328 109.90H363.5" fill="none" stroke="#ff0000" stroke-width="0.55"/>
<path d="M345.70 113.60L342.40 108.25H349.00Z" stroke="#ff0000" stroke-width="0.65" fill="none"/><circle cx="345.70" cy="109.90" r="0.45" fill="#ff0000"/>
<g transform="translate(279.90,125.95) scale(1,1.06)"><text font-size="12.1"><tspan x="0.50" font-style="italic">n</tspan><tspan x="10.09">=</tspan><tspan x="20.52">6</tspan><tspan x="27.25">4</tspan><tspan x="33.98">8</tspan></text></g>
<path d="M328 122.10H363.5" fill="none" stroke="#00ff00" stroke-width="0.55" stroke-dasharray="2.22,1.11"/>
<path d="M345.70 125.80L342.40 120.45H349.00Z" fill="#00ff00"/>
<g transform="translate(279.90,138.15) scale(1,1.06)"><text font-size="12.1"><tspan x="0.50" font-style="italic">n</tspan><tspan x="10.09">=</tspan><tspan x="20.52">6</tspan><tspan x="27.25">7</tspan><tspan x="33.98">5</tspan></text></g>
<path d="M328 134.30H363.5" fill="none" stroke="#0000ff" stroke-width="0.62" stroke-dasharray="1.11,1.67"/>
<path d="M345.70 131.00L349.00 134.30L345.70 137.60L342.40 134.30Z" stroke="#0000ff" stroke-width="0.65" fill="none"/><circle cx="345.70" cy="134.30" r="0.45" fill="#0000ff"/>
<g transform="translate(279.90,150.35) scale(1,1.06)"><text font-size="12.1"><tspan x="0.50" font-style="italic">n</tspan><tspan x="10.09">=</tspan><tspan x="20.52">7</tspan><tspan x="27.25">0</tspan><tspan x="33.98">2</tspan></text></g>
<path d="M328 146.50H363.5" fill="none" stroke="#ff00ff" stroke-width="0.65" stroke-dasharray="0.556,0.833"/>
<path d="M345.70 143.20L349.00 146.50L345.70 149.80L342.40 146.50Z" fill="#ff00ff"/>
</svg></body></html>
